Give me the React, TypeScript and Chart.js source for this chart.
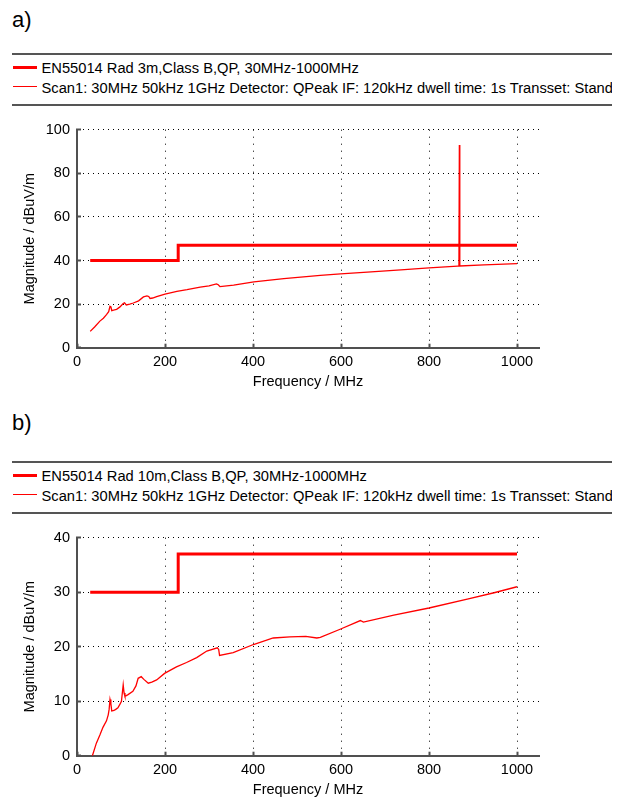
import React, { useEffect, useRef } from "react";
import { Chart, registerables } from "chart.js";

Chart.register(...registerables);

const FONT = "'Liberation Sans', Arial, Helvetica, sans-serif";

// ---- shared axis data ----
const xTickValues = [0, 200, 400, 600, 800, 1000];
const xMin = 0;
const xMax = 1050;

// ---- panel a) 3 m ----
const yTicksA = [0, 20, 40, 60, 80, 100];
const limitAFreq = [30, 230, 230, 1000];
const limitAValues = [40, 40, 47, 47];
const scanAFreq = [
  30, 40, 52, 60, 67, 72, 75, 77, 79, 85, 90, 97, 105, 108, 112, 120, 128, 140, 151, 159, 163, 166,
  172, 181, 200, 227, 250, 280, 300, 317, 321, 325, 356, 402, 470, 553, 599, 660, 736, 800, 865, 868,
  869, 870, 925, 1000,
];
const scanAValues = [
  7.5, 9.5, 12.2, 13.5, 15.2, 16.5, 19, 18.8, 17, 17.3, 17.6, 18.6, 20.3, 20.6, 19.6, 20.0, 20.5,
  21.5, 23.3, 23.8, 23.5, 22.6, 22.8, 23.4, 24.6, 25.8, 26.6, 27.8, 28.4, 29.3, 28.9, 28.0, 28.7,
  30.2, 31.7, 33.2, 33.9, 34.7, 35.7, 36.6, 37.4, 37.4, 93, 37.5, 38.0, 38.6,
];
const legendA1 = "EN55014 Rad 3m,Class B,QP, 30MHz-1000MHz";

// ---- panel b) 10 m ----
const yTicksB = [0, 10, 20, 30, 40];
const limitBFreq = [30, 230, 230, 1000];
const limitBValues = [30, 30, 37, 37];
const scanBFreq = [
  35, 44, 52, 59, 67, 71, 73, 75, 77, 79, 84, 88, 93, 98, 101, 103, 105, 107, 109, 116, 127, 134,
  139, 146, 152, 162, 170, 181, 199, 226, 249, 272, 295, 319, 322, 324, 355, 401, 446, 484, 520, 545,
  553, 598, 644, 651, 720, 800, 887, 948, 1000,
];
const scanBValues = [
  0, 2.3, 3.8, 5.2, 6.4, 7.5, 8.5, 10.3, 9.5, 8.2, 8.3, 8.5, 8.8, 9.5, 10, 11.5, 13, 11.5, 10.9,
  11.2, 11.8, 12.8, 14.2, 14.5, 14.0, 13.3, 13.5, 13.9, 15.1, 16.3, 17.1, 18, 19.2, 19.8, 19.5, 18.4,
  18.9, 20.4, 21.6, 21.8, 21.9, 21.6, 21.7, 23.2, 24.8, 24.5, 25.8, 27.1, 28.75, 29.9, 31,
];
const legendB1 = "EN55014 Rad 10m,Class B,QP, 30MHz-1000MHz";

const legend2 =
  "Scan1: 30MHz 50kHz 1GHz Detector: QPeak IF: 120kHz dwell time: 1s Transset: Stand";
const xTitle = "Frequency / MHz";
const yTitle = "Magnitude / dBuV/m";

const RED = "rgb(255,0,0)";
const AXIS = "#505050";

type ChartProps = {
  yMax: number;
  yTicks: number[];
  limitF: number[];
  limitV: number[];
  scanF: number[];
  scanV: number[];
};

function EmcChart({ yMax, yTicks, limitF, limitV, scanF, scanV }: ChartProps) {
  const ref = useRef<HTMLCanvasElement>(null);
  useEffect(() => {
    const font = { family: FONT, size: 14.5 };
    const chart = new Chart(ref.current!, {
      type: "line",
      data: {
        datasets: [
          {
            data: limitF.map((x, i) => ({ x, y: limitV[i] })),
            borderColor: RED,
            borderWidth: 3,
            pointRadius: 0,
            tension: 0,
            order: 1,
          },
          {
            data: scanF.map((x, i) => ({ x, y: scanV[i] })),
            borderColor: RED,
            borderWidth: 1.3,
            pointRadius: 0,
            tension: 0,
            order: 2,
          },
        ],
      },
      options: {
        animation: false,
        responsive: false,
        layout: { padding: { left: 0, right: 83, top: 13.5, bottom: 0 } },
        plugins: { legend: { display: false }, tooltip: { enabled: false } },
        scales: {
          x: {
            type: "linear",
            min: xMin,
            max: xMax,
            afterBuildTicks: (s: any) => {
              s.ticks = xTickValues.map((v) => ({ value: v }));
            },
            afterFit: (s: any) => {
              s.height = 52.3;
            },
            grid: { color: "#000", lineWidth: 1, tickLength: -4, tickColor: AXIS, tickWidth: 2 },
            border: { color: AXIS, width: 2, dash: [1, 6] },
            ticks: {
              padding: 9.3,
              color: "#000",
              font,
              maxRotation: 0,
              autoSkip: false,
              callback: (v: any) => String(v),
            },
            title: {
              display: true,
              text: xTitle,
              color: "#000",
              font,
              padding: { top: 0, bottom: 9.6 },
            },
          },
          y: {
            type: "linear",
            min: 0,
            max: yMax,
            afterBuildTicks: (s: any) => {
              s.ticks = yTicks.map((v) => ({ value: v }));
            },
            afterFit: (s: any) => {
              s.width = 77;
            },
            grid: { color: "#000", lineWidth: 1, tickLength: -4, tickColor: AXIS, tickWidth: 2 },
            border: { color: AXIS, width: 2, dash: [1, 4] },
            ticks: { padding: 11, color: "#000", font, autoSkip: false, callback: (v: any) => String(v) },
            title: {
              display: true,
              text: yTitle,
              color: "#000",
              font,
              padding: { top: 21.6, bottom: 0 },
            },
          },
        },
      },
    } as any);
    return () => chart.destroy();
  }, []);
  return <canvas ref={ref} width={622} height={290} style={{ display: "block" }} />;
}

type PanelProps = ChartProps & { top: number; label: string; labelTop: number; legend1: string };

function Panel({ top, label, labelTop, legend1, ...chart }: PanelProps) {
  const rule: React.CSSProperties = {
    position: "absolute",
    left: 12,
    width: 600,
    height: 2,
    background: "#555",
  };
  const text: React.CSSProperties = {
    position: "absolute",
    left: 41.5,
    width: 570,
    overflow: "hidden",
    whiteSpace: "nowrap",
    fontFamily: FONT,
    fontSize: 14.7,
    lineHeight: "16px",
    color: "#000",
  };
  return (
    <div style={{ position: "absolute", left: 0, top, width: 622, height: 400 }}>
      <div
        style={{
          position: "absolute",
          left: 12,
          top: labelTop,
          fontFamily: FONT,
          fontSize: 22,
          lineHeight: "22px",
          color: "#000",
        }}
      >
        {label}
      </div>
      <div style={{ ...rule, top: 53 }} />
      <div style={{ position: "absolute", left: 13, top: 66, width: 24, height: 3, background: RED }} />
      <div style={{ ...text, top: 60 }}>{legend1}</div>
      <div style={{ position: "absolute", left: 13, top: 86, width: 24, height: 1, background: RED }} />
      <div style={{ ...text, top: 79.5 }}>{legend2}</div>
      <div style={{ ...rule, top: 104 }} />
      <div style={{ position: "absolute", left: 0, top: 110 }}>
        <EmcChart {...chart} />
      </div>
    </div>
  );
}

export default function App() {
  useEffect(() => {
    document.body.style.margin = "0";
  }, []);
  return (
    <div style={{ position: "relative", width: 622, height: 800, background: "#fff", overflow: "hidden" }}>
      <Panel
        top={0}
        label="a)"
        labelTop={8.5}
        legend1={legendA1}
        yMax={100}
        yTicks={yTicksA}
        limitF={limitAFreq}
        limitV={limitAValues}
        scanF={scanAFreq}
        scanV={scanAValues}
      />
      <Panel
        top={408}
        label="b)"
        labelTop={4}
        legend1={legendB1}
        yMax={40}
        yTicks={yTicksB}
        limitF={limitBFreq}
        limitV={limitBValues}
        scanF={scanBFreq}
        scanV={scanBValues}
      />
    </div>
  );
}
